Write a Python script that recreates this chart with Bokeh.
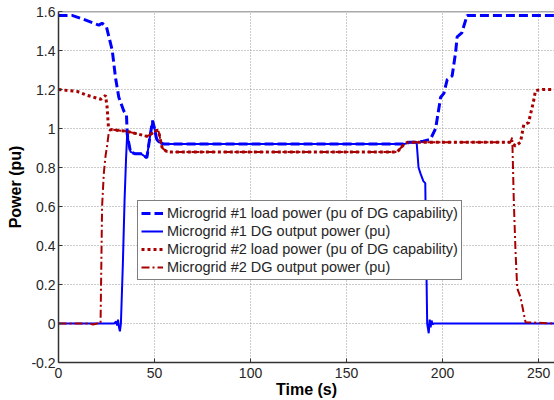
from bokeh.plotting import figure
from bokeh.models import (FixedTicker, CustomJSTickFormatter, Legend, LegendItem,
                          Range1d, Span)
from bokeh.embed import file_html
from bokeh.resources import INLINE

# ---------------- data ----------------
mg1_load_t = [0, 7, 13, 21, 22.7, 25, 26, 28, 29.7, 31.4, 34, 35.4, 35.8, 36.5, 37.5, 40,
              43, 46, 47.5, 49, 50, 51, 52, 55, 180, 183, 186.5, 190, 193.7, 196.4, 199,
              200.7, 202.4, 205, 206.8, 207.6, 210, 212.8, 220, 230, 240, 258.3]
mg1_load_v = [1.58, 1.58, 1.56, 1.53, 1.54, 1.52, 1.48, 1.40, 1.26, 1.16, 1.09, 1.07, 0.97,
              0.93, 0.88, 0.87, 0.87, 0.85, 0.95, 1.04, 1.0, 0.95, 0.93, 0.92, 0.92, 0.93,
              0.93, 0.935, 0.945, 1.0, 1.16, 1.18, 1.25, 1.27, 1.39, 1.47, 1.49, 1.58,
              1.58, 1.58, 1.58, 1.58]

mg1_dg_t = [0, 29, 30, 30.5, 31, 31.5, 32, 32.5, 33.5, 34.4, 35.2, 35.8, 36.5, 37.5, 40, 43,
            46, 47.5, 49, 50, 51, 52, 55, 180, 183, 186.5, 187.5, 188.5, 190, 191, 191.5,
            192, 192.8, 193.3, 193.8, 194.3, 194.8, 195.5, 258.3]
mg1_dg_v = [0, 0, 0.01, -0.01, 0.02, -0.02, -0.04, 0.0, 0.3, 0.63, 0.85, 0.98, 0.93, 0.88,
            0.87, 0.87, 0.85, 0.95, 1.04, 1.0, 0.95, 0.93, 0.92, 0.92, 0.93, 0.93, 0.80,
            0.77, 0.73, 0.72, 0.35, 0.0, -0.05, 0.02, -0.02, 0.015, -0.005, 0.0, 0.0]

mg2_load_t = [0, 9.7, 15, 22, 24.5, 25.3, 26, 27, 35.9, 46, 48, 51, 52, 54, 56.6, 176.4, 180,
              182, 235.4, 238, 240.6, 242.3, 244.8, 247.4, 248.4, 252, 258.3]
mg2_load_v = [1.20, 1.19, 1.17, 1.15, 1.17, 1.11, 1.01, 0.995, 0.985, 0.96, 0.97, 0.99, 0.99,
              0.90, 0.88, 0.88, 0.92, 0.93, 0.93, 0.91, 0.93, 1.02, 1.03, 1.14, 1.195, 1.2,
              1.2]

mg2_dg_t = [0, 16, 18, 20, 21.9, 22.7, 23.6, 24.5, 25.3, 26.2, 27, 35.9, 46, 48, 51, 52, 54,
            56.6, 176.4, 180, 182, 235.4, 236.3, 237.1, 238, 238.9, 240.6, 243.2, 258.3]
mg2_dg_v = [0, 0, -0.005, 0, 0, 0.6, 0.77, 0.86, 0.91, 0.98, 0.995, 0.985, 0.96, 0.97, 0.99,
            0.99, 0.90, 0.88, 0.88, 0.92, 0.93, 0.93, 0.955, 0.63, 0.37, 0.18, 0.135, 0.007,
            0.0]

x_ticks = [0, 50, 100, 150, 200, 250]
y_ticks = [-0.2, 0, 0.2, 0.4, 0.6, 0.8, 1.0, 1.2, 1.4, 1.6]
labels = ["Microgrid #1 load power (pu of DG capability)",
          "Microgrid #1 DG output power (pu)",
          "Microgrid #2 load power (pu of DG capability)",
          "Microgrid #2 DG output power (pu)"]

BLUE = "#0000ff"
RED = "#a80000"
FONT = "Liberation Sans"

p = figure(width=554, height=400, output_backend="svg", toolbar_location=None,
           x_range=Range1d(0, 258.3), y_range=Range1d(-0.2, 1.6),
           min_border_left=58, min_border_right=0, min_border_top=11, min_border_bottom=38)
p.outline_line_color = None
p.background_fill_color = "white"
p.border_fill_color = "white"

r1 = p.line(mg1_load_t, mg1_load_v, line_color=BLUE, line_width=3, line_dash="9 4")
r2 = p.line(mg1_dg_t, mg1_dg_v, line_color=BLUE, line_width=2)
r3 = p.line(mg2_load_t, mg2_load_v, line_color=RED, line_width=3, line_dash="3 3")
r4 = p.line(mg2_dg_t, mg2_dg_v, line_color=RED, line_width=2, line_dash="8 3 2 3")

for ax in (p.xaxis[0], p.yaxis[0]):
    ax.major_tick_in = 4
    ax.major_tick_out = 0
    ax.minor_tick_line_color = None
    ax.axis_line_color = "#333333"
    ax.axis_line_width = 1.5
    ax.major_tick_line_color = "#333333"
    ax.major_label_text_font = FONT
    ax.major_label_text_font_size = "14px"
    ax.major_label_text_color = "#262626"
    ax.axis_label_text_font = FONT
    ax.axis_label_text_font_size = "16px"
    ax.axis_label_text_font_style = "bold"
    ax.axis_label_text_color = "black"

p.xaxis.ticker = FixedTicker(ticks=x_ticks)
p.yaxis.ticker = FixedTicker(ticks=y_ticks)
p.yaxis.formatter = CustomJSTickFormatter(code="return tick.toFixed(1).replace(/\\.0$/, '');")
p.xaxis.axis_label = "Time (s)"
p.yaxis.axis_label = "Power (pu)"
p.xaxis.major_label_standoff = 5
p.xaxis.axis_label_standoff = 0
p.yaxis.major_label_standoff = 3
p.yaxis.axis_label_standoff = 4

# top frame border
p.add_layout(Span(location=y_ticks[-1], dimension="width", line_color="#555555",
                  line_width=1.5))

p.grid.grid_line_color = "#999999"
p.grid.grid_line_dash = "1 2"
p.grid.grid_line_width = 1
p.xgrid.ticker = FixedTicker(ticks=x_ticks)
p.ygrid.ticker = FixedTicker(ticks=y_ticks)

legend = Legend(items=[LegendItem(label=labels[0], renderers=[r1]),
                       LegendItem(label=labels[1], renderers=[r2]),
                       LegendItem(label=labels[2], renderers=[r3]),
                       LegendItem(label=labels[3], renderers=[r4])],
                location=(79, 82))
legend.label_text_font = FONT
legend.label_text_font_size = "14.5px"
legend.label_text_color = "#262626"
legend.label_height = 18
legend.glyph_height = 18
legend.glyph_width = 22
legend.label_standoff = 4
legend.spacing = 0
legend.padding = 3
legend.margin = 0
legend.border_line_color = "black"
legend.border_line_width = 1
legend.background_fill_alpha = 1
p.add_layout(legend, "center")

open("out.html", "w").write(file_html(p, INLINE))
